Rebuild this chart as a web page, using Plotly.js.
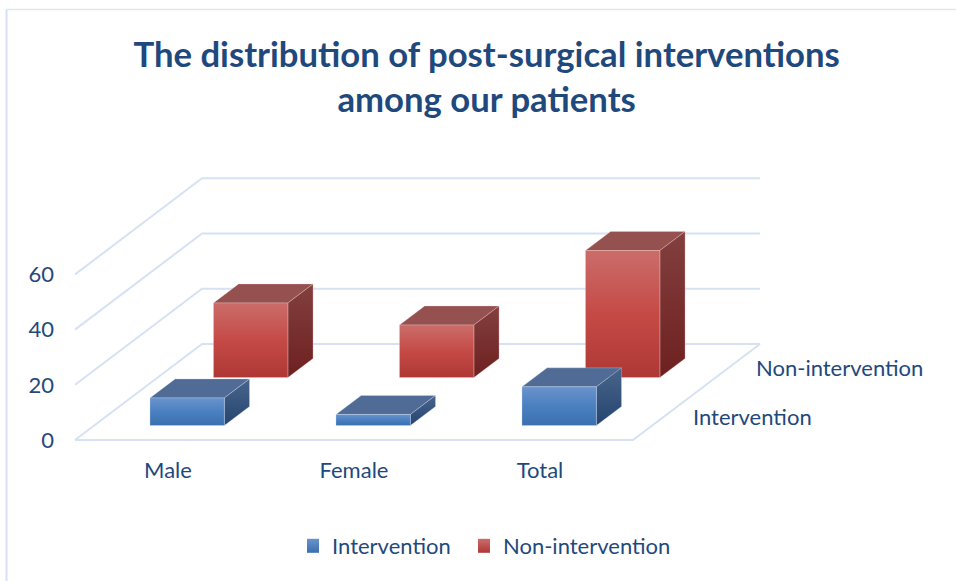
<!DOCTYPE html>
<html>
<head>
<meta charset="utf-8">
<script src="https://cdn.plot.ly/plotly-3.0.1.min.js"></script>
<style>html,body{margin:0;padding:0;background:#fff}#chart{width:956px;height:581px}#chart text{font-variant-ligatures:none}</style>
</head>
<body>
<div id="chart"></div>
<script>
var categories = ['Male', 'Female', 'Total'];
var intervention = [10, 4, 14];
var nonIntervention = [27, 19, 46];
var yTicks = [0, 20, 40, 60];
var titleText = 'The distribution of post-surgical interventions<br>among our patients';

// Oblique projection of the 3D chart box into the 2D axes.
var SKEW_X = 0.683, SKEW_Y = 34.8;      // shift of the whole depth, in axis units
var BAR_W = 0.4, BAR_D = 0.198;
function px(i, d) { return i + d * SKEW_X; }
function py(v, d) { return v + d * SKEW_Y; }

var INK = '#1F497D', GRID = '#D6E2F3';
var series = [
  { name: 'Non-intervention', values: nonIntervention, depth: 0.75, legend: 'legend2',
    front: ['#AE3835', '#C54A46', '#CB6D6A'], side: ['#6E2020', '#82403E'], top: '#955150', edge: 'rgba(255,210,205,0.3)' },
  { name: 'Intervention', values: intervention, depth: 0.25, legend: 'legend',
    front: ['#3A6FB0', '#4A80C0', '#6A93CC'], side: ['#25456F', '#48648C'], top: '#506C96', edge: 'rgba(215,230,250,0.3)' }
];

function ramp(c) {
  if (c.length === 3) return [[0, c[0]], [0.5, c[1]], [1, c[2]]];
  return [[0, c[0]], [1, c[1]]];
}
function face(xs, ys, fill, edge) {
  var t = { type: 'scatter', mode: 'lines', x: xs, y: ys, fill: 'toself',
    line: { color: edge, width: 1 }, hoverinfo: 'skip', showlegend: false };
  if (typeof fill === 'string') t.fillcolor = fill;
  else t.fillgradient = { type: 'vertical', colorscale: ramp(fill) };
  return t;
}

var traces = [];

// box wall and floor lines
yTicks.forEach(function (v) {
  traces.push({ type: 'scatter', mode: 'lines', hoverinfo: 'skip', showlegend: false,
    x: [px(-0.5, 0), px(-0.5, 1), px(2.5, 1)],
    y: [py(v, 0), py(v, 1), py(v, 1)],
    line: { color: GRID, width: 2 } });
});
traces.push({ type: 'scatter', mode: 'lines', hoverinfo: 'skip', showlegend: false,
  x: [px(-0.5, 0), px(2.5, 0), px(2.5, 1)],
  y: [py(0, 0), py(0, 0), py(0, 1)],
  line: { color: GRID, width: 2 } });

// bars, back row first
series.forEach(function (s) {
  var d0 = s.depth - BAR_D / 2, d1 = s.depth + BAR_D / 2;
  s.values.forEach(function (v, i) {
    var l = i - BAR_W / 2, r = i + BAR_W / 2;
    traces.push(face(
      [px(l, d0), px(r, d0), px(r, d1), px(l, d1), px(l, d0)],
      [py(v, d0), py(v, d0), py(v, d1), py(v, d1), py(v, d0)], s.top, s.edge));
    traces.push(face(
      [px(r, d0), px(r, d1), px(r, d1), px(r, d0), px(r, d0)],
      [py(0, d0), py(0, d1), py(v, d1), py(v, d0), py(0, d0)], s.side, s.edge));
    traces.push(face(
      [px(l, d0), px(r, d0), px(r, d0), px(l, d0), px(l, d0)],
      [py(0, d0), py(0, d0), py(v, d0), py(v, d0), py(0, d0)], s.front, s.edge));
  });
});

// legend entries
[series[1], series[0]].forEach(function (s) {
  traces.push({ type: 'scatter', mode: 'markers', name: s.name, x: [null], y: [null], legend: s.legend,
    showlegend: true,
    marker: { symbol: 'square', size: 14, color: s.front[2],
      gradient: { type: 'vertical', color: s.front[0] }, line: { width: 0 } } });
});

var legendBase = { orientation: 'h', xanchor: 'left', y: -0.2, yanchor: 'middle',
  font: { size: 22, color: INK }, itemwidth: 30, indentation: -15, bgcolor: 'rgba(0,0,0,0)' };

var layout = {
  width: 956, height: 581,
  paper_bgcolor: '#fff', plot_bgcolor: 'rgba(0,0,0,0)',
  margin: { l: 60, r: 0, t: 0, b: 126, pad: 0 },
  font: { family: 'Lato, sans-serif', color: INK, size: 22 },
  title: { text: titleText, xref: 'container', yref: 'container', x: 0.509, xanchor: 'center',
    y: 0.885, yanchor: 'top', automargin: false, pad: { t: 0, b: 0 },
    font: { family: 'Lato, sans-serif', size: 34.7, color: INK, weight: 700 } },
  xaxis: { range: [-0.5806, 4.2366], tickmode: 'array', tickvals: [0, 1, 2], ticktext: categories,
    showgrid: false, zeroline: false, showline: false, ticks: '', fixedrange: true },
  yaxis: { range: [-5.43, 159.4], tickmode: 'array', tickvals: yTicks, ticklabelstandoff: 5,
    showgrid: false, zeroline: false, showline: false, ticks: '', fixedrange: true },
  legend: Object.assign({}, legendBase, { x: 0.2757 }),
  legend2: Object.assign({}, legendBase, { x: 0.4665 }),
  annotations: series.map(function (s) {
    return { x: px(2.5, s.depth), y: py(0, s.depth), xref: 'x', yref: 'y', text: s.name, showarrow: false,
      xanchor: 'left', yanchor: 'middle', xshift: 26, font: { size: 22, color: INK } };
  }),
  shapes: [
    { type: 'line', xref: 'paper', yref: 'paper', x0: -0.0597, x1: -0.0597, y0: 0.979, y1: -0.277,
      line: { color: GRID, width: 2 } },
    { type: 'line', xref: 'paper', yref: 'paper', x0: -0.0597, x1: 1, y0: 0.979, y1: 0.979,
      line: { color: '#DEE5EE', width: 1.5 } }
  ]
};
Plotly.newPlot('chart', traces, layout, { displayModeBar: false, staticPlot: true });
</script>
</body>
</html>
